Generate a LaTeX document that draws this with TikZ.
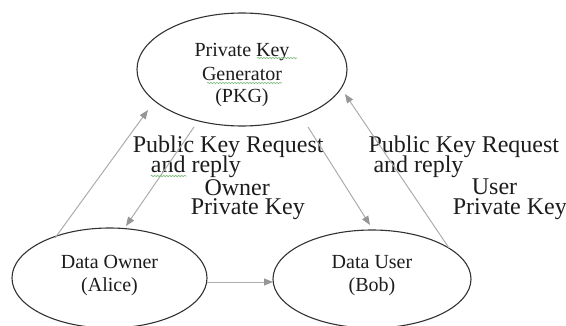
\documentclass[tikz,border=0pt]{standalone}
\usepackage{fontspec}
\setmainfont{Liberation Serif}
\usetikzlibrary{arrows.meta,calc,decorations.pathmorphing,shapes.geometric}
\definecolor{ink}{RGB}{28,28,28}
\definecolor{edge}{RGB}{50,50,50}
\definecolor{conn}{RGB}{172,172,172}
\definecolor{tipc}{RGB}{150,150,150}
\definecolor{squig}{RGB}{120,185,120}
\begin{document}
\begin{tikzpicture}[x=1pt,y=1pt,
  ell/.style={ellipse,draw=edge,line width=1.1pt,inner sep=0pt,text=ink,
    font=\fontsize{20}{23}\selectfont},
  arr/.style={draw=conn,line width=1pt,-{Triangle[length=9pt,width=7pt,color=tipc]}},
  lbl/.style={inner sep=0pt,anchor=base west,text=ink,font=\fontsize{24}{24}\selectfont},
  squiggle/.style={draw=squig,line width=0.6pt,decorate,
    decoration={snake,amplitude=0.7pt,segment length=3pt}}]
\useasboundingbox (0,0) rectangle (566,325);

\node[ell,minimum width=210pt,minimum height=113pt] (pkg) at (242,255.5)
  {\raisebox{-33.5pt}[0pt][0pt]{\begin{tabular}[b]{@{}c@{}}Private Key\\Generator\\(PKG)\end{tabular}}};
\node[ell,minimum width=195pt,minimum height=100pt] (owner) at (109.5,47)
  {\raisebox{-13pt}[0pt][0pt]{\begin{tabular}[b]{@{}c@{}}Data Owner\\(Alice)\end{tabular}}};
\node[ell,minimum width=198pt,minimum height=98pt] (user) at (372,46)
  {\raisebox{-12pt}[0pt][0pt]{\begin{tabular}[b]{@{}c@{}}Data User\\(Bob)\end{tabular}}};

% labels, left
\node[lbl] (l1) at (132.7,172.3) {Public Key Request};
\node[lbl] (l2) at (150.7,152.5) {and reply};
\node[lbl] (l3) at (204.3,130) {Owner};
\node[lbl] (l4) at (190.7,110.5) {Private Key};
% labels, right
\node[lbl] (r1) at (368.3,172.3) {Public Key Request};
\node[lbl] (r2) at (373.3,152.5) {and reply};
\node[lbl] (r3) at (471.7,131) {User};
\node[lbl] (r4) at (452.7,111) {Private Key};

% connectors
\draw[arr] ($(owner.center)+(-54.5,40)$) -- ($(pkg.center)+(-94,-40.5)$);
\draw[arr] ($(pkg.center)+(-48,-57.5)$) -- ($(owner.center)+(16.5,52)$);
\draw[arr] ($(pkg.center)+(66,-57.5)$) -- ($(user.center)+(-2,54)$);
\draw[arr] ($(user.center)+(77,31)$) -- ($(pkg.center)+(103,-24.5)$);
\draw[arr] ($(owner.center)+(97.5,-4)$) -- ($(user.center)+(-99,-3)$);

% spell-check squiggles
\draw[squiggle] ($(pkg.center)+(15,11.5)$) -- ($(pkg.center)+(55,11.5)$);
\draw[squiggle] ($(pkg.center)+(-35,-13.5)$) -- ($(pkg.center)+(40,-13.5)$);
\draw[squiggle] ($(l2.base west)+(0,-3.5)$) -- ($(l2.base west)+(36,-3.5)$);
\end{tikzpicture}
\end{document}
